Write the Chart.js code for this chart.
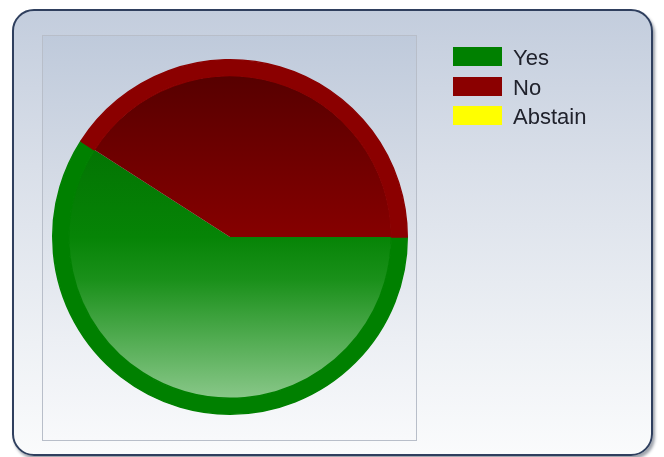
<!DOCTYPE html>
<html>
<head>
<meta charset="utf-8">
<script src="https://cdn.jsdelivr.net/npm/chart.js@4/dist/chart.umd.min.js"></script>
<style>
  html, body { margin: 0; padding: 0; background: #ffffff; }
  #wrap { position: relative; width: 664px; height: 457px; overflow: hidden; background: #ffffff; }
  #frame {
    position: absolute; left: 12px; top: 9px; width: 637px; height: 443px;
    border: 2px solid #2f3f5e; border-radius: 22px;
    background: linear-gradient(to bottom, #c3cddd 0%, #d9dfe9 35%, #eef1f5 75%, #fafbfc 100%);
    box-shadow: 2px 3px 3px rgba(40,50,70,0.45);
  }
  #plot {
    position: absolute; left: 42px; top: 35px; width: 373px; height: 404px;
    border: 1px solid #b8bec9;
    background: linear-gradient(to bottom, #bfcadb 0%, #d7dde7 40%, #eceff4 75%, #f8f9fb 100%);
  }
  #chart { position: absolute; left: 0; top: 0; }
  #legend { position: absolute; left: 453px; top: 43px; font-family: "Liberation Sans", Arial, sans-serif; font-size: 22px; color: #20222c; }
  .row { display: flex; align-items: flex-start; height: 29.5px; line-height: 30px; }
  .box { width: 49px; height: 19px; margin-right: 11px; margin-top: 4px; }
</style>
</head>
<body>
<div id="wrap">
  <div id="frame"></div>
  <div id="plot"></div>
  <canvas id="chart" width="664" height="457"></canvas>
  <div id="legend"></div>
</div>
<script>
const categories = ["Yes", "No", "Abstain"];
const votes = [13, 9, 0];
const baseColors = ["#008000", "#8b0000", "#ffff00"];

// inner gradient stops per category (top -> bottom of pie)
const innerStops = [
  [[0, "#006400"], [0.5, "#068406"], [0.62, "#1a901a"], [1, "#98cf98"]],
  [[0, "#520000"], [0.5, "#860000"], [1, "#a00000"]],
  [[0, "#e6e600"], [1, "#ffff80"]]
];

// HTML legend built from the data arrays
const legendEl = document.getElementById("legend");
categories.forEach((c, i) => {
  const row = document.createElement("div");
  row.className = "row";
  const box = document.createElement("div");
  box.className = "box";
  box.style.background = baseColors[i];
  const txt = document.createElement("span");
  txt.textContent = c;
  row.appendChild(box);
  row.appendChild(txt);
  legendEl.appendChild(row);
});

function innerColor(ctx) {
  const chart = ctx.chart;
  const area = chart.chartArea;
  if (!area) return baseColors[ctx.dataIndex];
  const g = chart.ctx.createLinearGradient(0, area.top, 0, area.bottom);
  innerStops[ctx.dataIndex].forEach(s => g.addColorStop(s[0], s[1]));
  return g;
}

new Chart(document.getElementById("chart"), {
  type: "doughnut",
  data: {
    labels: categories,
    datasets: [
      { data: votes, backgroundColor: baseColors, borderColor: baseColors, borderWidth: 1.5, weight: 16, hoverOffset: 0 },
      { data: votes, backgroundColor: innerColor, borderWidth: 0, weight: 162, hoverOffset: 0 }
    ]
  },
  options: {
    responsive: false,
    animation: false,
    cutout: 0,
    rotation: 90,
    layout: { padding: { left: 52, top: 59, right: 256, bottom: 42 } },
    plugins: {
      legend: { display: false },
      tooltip: { enabled: false }
    }
  }
});
</script>
</body>
</html>
